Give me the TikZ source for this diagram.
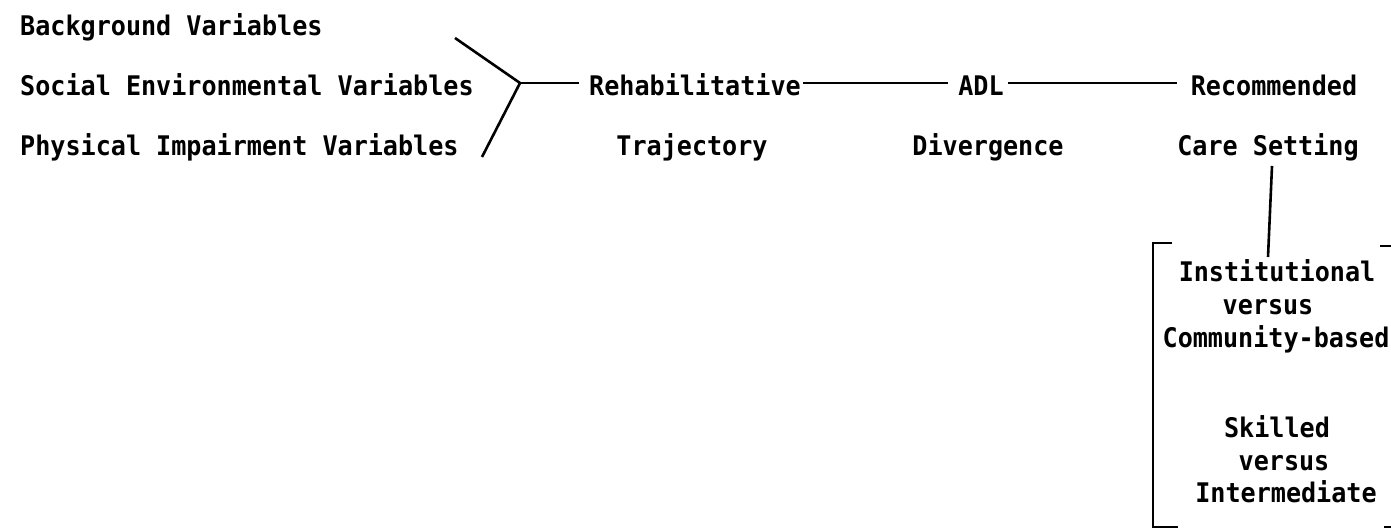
\documentclass[tikz,border=0pt]{standalone}
\usepackage{fontspec}
\setmonofont[FakeStretch=0.93]{DejaVu Sans Mono}
\begin{document}
\begin{tikzpicture}[x=1pt,y=-1pt,
  lbl/.style={font=\ttfamily\bfseries\fontsize{27}{32}\selectfont, inner sep=0pt},
  ln/.style={line width=2.6pt}]
\useasboundingbox (0,0) rectangle (1391,529);
% left labels
\node[lbl, anchor=base west] (bg) at (20,36) {Background Variables};
\node[lbl, anchor=base west] (se) at (20,96) {Social Environmental Variables};
\node[lbl, anchor=base west] (pi) at (20,156) {Physical Impairment Variables};
% chain
\node[lbl, anchor=base] (reh) at (695,96) {Rehabilitative};
\node[lbl, anchor=base] (tra) at (692,156) {Trajectory};
\node[lbl, anchor=base] (adl) at (981,96) {ADL};
\node[lbl, anchor=base] (div) at (988,156) {Divergence};
\node[lbl, anchor=base] (rec) at (1274,96) {Recommended};
\node[lbl, anchor=base] (car) at (1268,156) {Care Setting};
% bracket text
\node[lbl, anchor=base] (ins) at (1277,281) {Institutional};
\node[lbl, anchor=base] (vs1) at (1268,314) {versus};
\node[lbl, anchor=base] (com) at (1276,347) {Community-based};
\node[lbl, anchor=base] (ski) at (1277,437) {Skilled};
\node[lbl, anchor=base] (vs2) at (1284,470) {versus};
\node[lbl, anchor=base] (int) at (1286,502) {Intermediate};
% connectors
\coordinate (j) at (520,83);
\coordinate (b1) at (455,38);
\coordinate (b3) at (482,157);
\draw[ln] (b1) -- (j) -- (b3);
\draw[ln] (j) -- ([xshift=-10pt]reh.west |- j);
\draw[ln] ([xshift=2pt]reh.east |- j) -- ([xshift=-10pt]adl.west |- j);
\draw[ln] ([xshift=4pt]adl.east |- j) -- ([xshift=-14pt]rec.west |- j);
\coordinate (vt) at (1272,166);
\coordinate (vb) at (1268,257);
\draw[ln] (vt) -- (vb);
% bracket
\draw[ln] (1172,243) -- (1153,243) -- (1153,527) -- (1178,527);
\draw[ln] (1380,246) -- (1391,246);
\draw[ln] (1384,527) -- (1391,527);
\end{tikzpicture}
\end{document}
